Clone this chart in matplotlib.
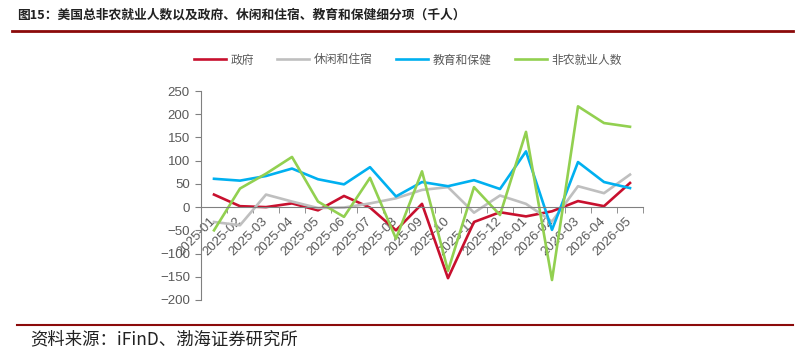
import matplotlib.pyplot as plt
import numpy as np

plt.rcParams['font.family'] = ['Noto Sans CJK SC', 'DejaVu Sans']

months = ["2025-01", "2025-02", "2025-03", "2025-04", "2025-05", "2025-06",
          "2025-07", "2025-08", "2025-09", "2025-10", "2025-11", "2025-12",
          "2026-01", "2026-02", "2026-03", "2026-04", "2026-05"]

government = [27, 2, 0, 8, -7, 24, -1, -50, 7, -153, -32, -11, -20, -9, 13, 2, 52]
leisure = [-32, -39, 27, 12, -2, -1, 8, 19, 37, 43, -12, 25, 7, -31, 45, 30, 70]
education = [61, 57, 67, 83, 60, 49, 86, 23, 54, 45, 58, 39, 120, -49, 97, 54, 41]
nonfarm = [-50, 40, 72, 108, 12, -21, 63, -68, 77, -137, 43, -17, 162, -157, 217, 181, 173]

series = [
    ("政府", government, "#C8102E"),
    ("休闲和住宿", leisure, "#BFBFBF"),
    ("教育和保健", education, "#00B0F0"),
    ("非农就业人数", nonfarm, "#92D050"),
]

fig = plt.figure(figsize=(8.11, 3.52), dpi=100)
ax = fig.add_axes([201 / 811, 1 - 300 / 352, 442 / 811, 209 / 352])

x = np.arange(len(months))
for name, vals, color in series:
    ax.plot(x, vals, color=color, lw=1.9, label=name)

ax.set_xlim(-0.5, len(months) - 0.5)
ax.set_ylim(-200, 250)
ax.set_yticks(np.arange(-200, 251, 50))

axis_gray = "#808080"
text_gray = "#595959"

for side in ["top", "right"]:
    ax.spines[side].set_visible(False)
ax.spines["bottom"].set_position(("data", 0))
ax.spines["bottom"].set_color(axis_gray)
ax.spines["left"].set_color(axis_gray)

ax.set_xticks(x)
ax.set_xticklabels(months, rotation=45, ha="right", va="center",
                   rotation_mode="anchor", family="Liberation Sans",
                   fontsize=9.5, color=text_gray)
ax.tick_params(axis="x", which="major", length=0, pad=9)
ax.set_xticks(np.arange(-0.5, len(months), 1), minor=True)
ax.tick_params(axis="x", which="minor", length=4, direction="out", color=axis_gray)

ax.tick_params(axis="y", length=4, direction="out", color=axis_gray,
               labelcolor=text_gray, labelsize=9.5, pad=4)
for lab in ax.get_yticklabels():
    lab.set_family("Liberation Sans")

leg = fig.legend(loc="center", bbox_to_anchor=(408 / 811, 1 - 60 / 352), ncol=4,
                 frameon=False, fontsize=8.5, handlelength=2.7,
                 columnspacing=2.0, handletextpad=0.4)
for t in leg.get_texts():
    t.set_color(text_gray)

fig.text(17 / 811, 1 - 15 / 352, "图15：美国总非农就业人数以及政府、休闲和住宿、教育和保健细分项（千人）",
         fontsize=9.2, fontweight="bold", color="#222222", va="center", ha="left")
fig.add_artist(plt.Line2D([12 / 811, 793 / 811], [1 - 31 / 352] * 2,
                          color="#8B0A0A", lw=2, transform=fig.transFigure))
fig.add_artist(plt.Line2D([17 / 811, 793 / 811], [1 - 325 / 352] * 2,
                          color="#8B0A0A", lw=1.5, transform=fig.transFigure))
fig.text(30 / 811, 1 - 339 / 352, "资料来源：iFinD、渤海证券研究所",
         fontsize=12.5, color="#222222", va="center", ha="left")

fig.savefig("out.png", dpi=100)
plt.close(fig)
